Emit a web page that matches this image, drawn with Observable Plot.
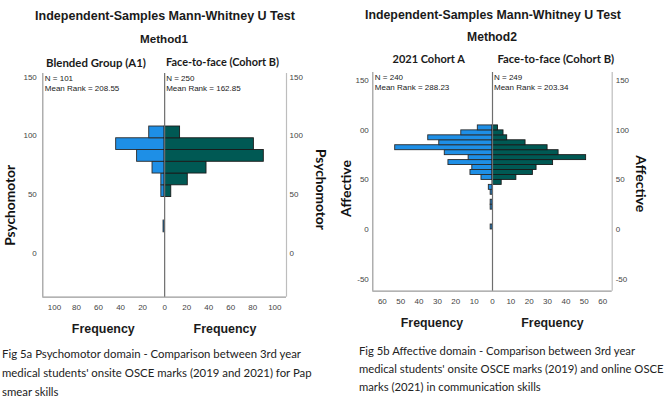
<!DOCTYPE html>
<html><head><meta charset="utf-8">
<script src="https://cdn.jsdelivr.net/npm/d3@7"></script>
<script src="https://cdn.jsdelivr.net/npm/@observablehq/plot@0.6"></script>
<style>
body{margin:0;background:#fff;}
#root{position:relative;width:669px;height:400px;overflow:hidden;background:#fff;}
.t{position:absolute;white-space:nowrap;line-height:1;}
.panel{position:absolute;top:0;}
</style></head><body><div id="root"></div><script>
// ---------- data ----------
const psychoBinStart = [18, 28, 38, 48, 58, 68, 78, 88, 98];
const psychoBinWidth = 10;
const psychoBlended = [1, 0, 0, 3, 3, 11, 25, 44, 14];
const psychoFaceToFace = [0, 0, 0, 6, 21, 38, 90, 81, 14];
const psychoStatsLeft = "N = 101\nMean Rank = 208.55";
const psychoStatsRight = "N = 250\nMean Rank = 162.85";
const psychoXTicks = [-100, -80, -60, -40, -20, 0, 20, 40, 60, 80, 100];
const psychoYTicks = [0, 50, 100, 150];

const affBinStart = [0, 5, 10, 15, 20, 25, 30, 35, 40, 45, 50, 55, 60, 65, 70, 75, 80, 85, 90, 95, 100];
const affBinWidth = 5;
const affCohortA = [1, 0, 0, 0, 1, 1, 0, 1, 2, 0, 6, 12, 11, 24, 13, 26, 53, 29, 35, 17, 8];
const affFaceToFace = [0, 0, 0, 0, 0, 0, 0, 0, 0, 5, 13, 22, 24, 33, 51, 36, 30, 18, 8, 6, 3];
const affStatsLeft = "N = 240\nMean Rank = 288.23";
const affStatsRight = "N = 249\nMean Rank = 203.34";
const affXTicks = [-60, -50, -40, -30, -20, -10, 0, 10, 20, 30, 40, 50, 60];
const affYTicks = [-50, 0, 50, 100, 150];
const affYTickLabelsLeft = ["-50", "0", "50", "00", "150"];
const affYTickLabelsRight = ["-50", "0", "50", "100", "150"];

const titleText = "Independent-Samples Mann-Whitney U Test";
const methodNames = ["Method1", "Method2"];
const groupNames1 = ["Blended Group (A1)", "Face-to-face (Cohort B)"];
const groupNames2 = ["2021 Cohort A", "Face-to-face (Cohort B)"];
const axisNames = ["Psychomotor", "Affective"];
const freqLabel = "Frequency";
const caption1 = ["Fig 5a Psychomotor domain - Comparison between 3rd year",
  "medical students' onsite OSCE marks (2019 and 2021) for Pap",
  "smear skills"];
const caption2 = ["Fig 5b Affective domain - Comparison between 3rd year",
  "medical students' onsite OSCE marks (2019) and online OSCE",
  "marks (2021) in communication skills"];

// ---------- style ----------
const BLUE = "#1e8fe6";
const TEAL = "#005954";
const ARIAL = "'Liberation Sans', Arial, sans-serif";
const CAL = "Lato, 'Open Sans', sans-serif";

const root = document.getElementById("root");
const ctx = document.createElement("canvas").getContext("2d");

// font size that makes a string span a given pixel width
function fitSize(str, width, family, weight) {
  ctx.font = `${weight} 100px ${family}`;
  return width / ctx.measureText(str).width * 100;
}

function addText(str, x, baseline, {family = ARIAL, size = 12, weight = "bold", anchor = "middle", color = "#1a1a1a"} = {}) {
  const k = family === ARIAL ? 0.8465 : 0.887;
  const d = document.createElement("div");
  d.className = "t";
  d.textContent = str;
  d.style.fontFamily = family;
  d.style.fontSize = size + "px";
  d.style.fontWeight = weight;
  d.style.color = color;
  d.style.top = (baseline - k * size) + "px";
  d.style.left = x + "px";
  if (anchor === "middle") d.style.transform = "translateX(-50%)";
  root.appendChild(d);
}
function addFit(str, x, baseline, width, opts = {}) {
  const family = opts.family || ARIAL, weight = opts.weight || "bold";
  addText(str, x, baseline, {...opts, size: fitSize(str, width, family, weight)});
}

function bins(starts, counts, w) {
  return starts.map((s, i) => ({lo: s, hi: s + w, n: counts[i]})).filter(d => d.n > 0);
}

function panel({left, width, height, margin, xMax, yDomain, xTicks, yTicks, yLabelsL, yLabelsR,
                leftBins, rightBins, statsL, statsR, axisName, axisLen, yPadL, yPadR, xPad, nameL, nameR}) {
  const fmtL = yLabelsL ? (d => yLabelsL[yTicks.indexOf(d)]) : (d => String(d));
  const fmtR = yLabelsR ? (d => yLabelsR[yTicks.indexOf(d)]) : (d => String(d));
  const nameSize = fitSize(axisName, axisLen, CAL, "bold");
  const chart = Plot.plot({
    width, height,
    marginTop: margin[0], marginRight: margin[1], marginBottom: margin[2], marginLeft: margin[3],
    x: {domain: [-xMax, xMax]},
    y: {domain: yDomain},
    style: {fontFamily: ARIAL, fontSize: "8px", color: "#444", background: "transparent", overflow: "visible"},
    marks: [
      Plot.rectX(leftBins, {x1: d => -d.n, x2: 0, y1: "lo", y2: "hi", fill: BLUE, stroke: "#2a2a2a", strokeWidth: 0.9}),
      Plot.rectX(rightBins, {x1: 0, x2: "n", y1: "lo", y2: "hi", fill: TEAL, stroke: "#1a1a1a", strokeWidth: 0.9}),
      Plot.ruleX([-xMax], {stroke: "#9a9a9a", strokeWidth: 1.2}),
      Plot.ruleX([xMax], {stroke: "#bdbdbd", strokeWidth: 1.2}),
      Plot.ruleY([yDomain[0]], {stroke: "#9a9a9a", strokeWidth: 1.2}),
      Plot.ruleX([0], {stroke: "#6e6e6e", strokeWidth: 1.2}),
      Plot.axisX({ticks: xTicks, tickSize: 0, tickPadding: xPad, tickFormat: d => String(Math.abs(d)), label: null, fill: "#444"}),
      Plot.axisY({ticks: yTicks, anchor: "left", tickSize: 0, tickPadding: yPadL, tickFormat: fmtL, label: null, fill: "#444"}),
      Plot.axisY({ticks: yTicks, anchor: "right", tickSize: 0, tickPadding: yPadR, tickFormat: fmtR, label: null, fill: "#444"}),
      Plot.text([statsL], {frameAnchor: "top-left", dx: 2, dy: 0.5, lineAnchor: "top", textAnchor: "start", fontSize: 8, lineHeight: 1.25, fill: "#1a1a1a"}),
      Plot.text([{x: 0, s: statsR}], {x: "x", text: "s", frameAnchor: "top", dx: 1.5, dy: 0.5, lineAnchor: "top", textAnchor: "start", fontSize: 8, lineHeight: 1.25, fill: "#1a1a1a"}),
      Plot.text([axisName], {frameAnchor: "left", textAnchor: "middle", lineAnchor: "middle", dx: nameL[0], dy: nameL[1], rotate: -90, fontFamily: CAL, fontWeight: "bold", fontSize: nameSize, fill: "#111"}),
      Plot.text([axisName], {frameAnchor: "right", textAnchor: "middle", lineAnchor: "middle", dx: nameR[0], dy: nameR[1], rotate: 90, fontFamily: CAL, fontWeight: "bold", fontSize: nameSize, fill: "#111"})
    ]
  });
  chart.classList.add("panel");
  chart.style.left = left + "px";
  root.appendChild(chart);
}

panel({left: 0, width: 335, height: 320, margin: [73, 49, 23.3, 42.3], xMax: 110.6, yDomain: [-37.2, 153.1],
  xTicks: psychoXTicks, yTicks: psychoYTicks, leftBins: bins(psychoBinStart, psychoBlended, psychoBinWidth),
  rightBins: bins(psychoBinStart, psychoFaceToFace, psychoBinWidth), statsL: psychoStatsLeft, statsR: psychoStatsRight,
  axisName: axisNames[0], axisLen: 81, yPadL: 6, yPadR: 3, xPad: 7, nameL: [-32.3, 20], nameR: [34, 4]});

panel({left: 335, width: 334, height: 320, margin: [72, 57.3, 29.3, 37.3], xMax: 65.2, yDomain: [-62.3, 158.4],
  xTicks: affXTicks, yTicks: affYTicks, yLabelsL: affYTickLabelsLeft, yLabelsR: affYTickLabelsRight,
  leftBins: bins(affBinStart, affCohortA, affBinWidth), rightBins: bins(affBinStart, affFaceToFace, affBinWidth),
  statsL: affStatsLeft, statsR: affStatsRight, axisName: axisNames[1], axisLen: 57, yPadL: 4, yPadR: 3.5, xPad: 7.5,
  nameL: [-26, 6.6], nameR: [28.6, 2]});

// ---------- titles & captions ----------
addFit(titleText, 165, 20.5, 260);
addFit(methodNames[0], 164, 43, 48);
addFit(groupNames1[0], 96, 67, 100, {family: CAL});
addFit(groupNames1[1], 222.5, 67, 113, {family: CAL});
addFit(freqLabel, 103.3, 334, 63);
addFit(freqLabel, 225, 334, 63);

addFit(titleText, 493, 19, 256);
addFit(methodNames[1], 492, 41.7, 50);
addFit(groupNames2[0], 428.7, 63, 72.7, {family: CAL});
addFit(groupNames2[1], 555.8, 63, 117, {family: CAL});
addFit(freqLabel, 432, 327.3, 62.5);
addFit(freqLabel, 552.5, 327.3, 62.5);

const cap1Size = fitSize(caption1[0], 300, CAL, "normal");
const cap2Size = fitSize(caption2[1], 305, CAL, "normal");
caption1.forEach((s, i) => addText(s, 2, 358 + i * 19, {family: CAL, size: cap1Size, weight: "normal", anchor: "start", color: "#222"}));
caption2.forEach((s, i) => addText(s, 359, 355 + i * 18, {family: CAL, size: cap2Size, weight: "normal", anchor: "start", color: "#222"}));
</script></body></html>
